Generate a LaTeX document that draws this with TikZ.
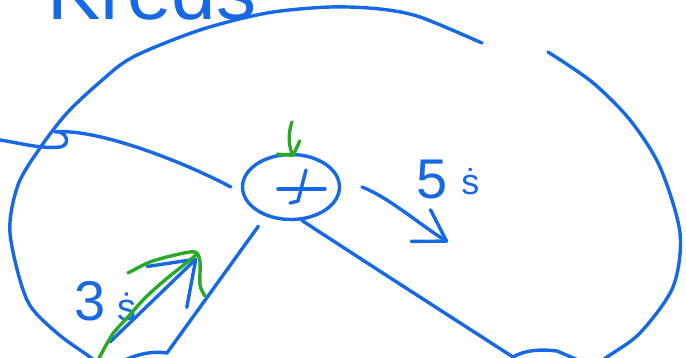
\documentclass[tikz,border=0pt]{standalone}
\usepackage{fontspec}
\setmainfont{Liberation Sans}
\usetikzlibrary{arrows.meta,shapes.geometric}

\definecolor{penblue}{RGB}{22,104,228}
\definecolor{pengreen}{RGB}{40,170,40}

\begin{document}
\begin{tikzpicture}[
    x=1pt, y=-1pt,
    pen/.style={penblue, line width=3.4pt, line cap=round, line join=round},
    marker/.style={pengreen, line width=3.4pt, line cap=round, line join=round},
    hand/.style 2 args={-{Straight Barb[round,length=#1,width=#2]}},
    junction/.style={ellipse, draw=penblue, line width=3.4pt,
                     minimum width=97pt, minimum height=65pt, inner sep=0pt},
    scrawl/.style={text=penblue, inner sep=0pt, anchor=base west}
  ]
  \useasboundingbox (0,0) rectangle (686,357);

  \node[scrawl, font=\fontsize{80}{80}\selectfont] (title) at (47,19) {Kreds};

  % the summing junction
  \node[junction] (sum) at (291,187) {};
  \draw[pen] (278,189) -- (325,189);
  \draw[pen] (306,170) -- (298,201) -- (290,203);

  \coordinate (inL) at (0,140);
  \coordinate (botL) at (167,353);
  \coordinate (botR) at (513,357);
  \coordinate (a5s) at (362,187);
  \coordinate (a5e) at (448,242);
  \coordinate (a3s) at (110,342);
  \coordinate (a3e) at (197,258);
  \coordinate (gs) at (292,122);

  % outer ring, open at the top right
  \draw[pen] plot[smooth] coordinates {(100,366) (90,357) (57,333) (27,300)
      (10,233) (18,185) (40,148) (67,113) (100,82) (133,57) (200,30) (267,13)
      (330,7) (380,9) (420,17) (482,43)};
  \draw[pen] plot[smooth] coordinates {(548,52) (592,82) (630,120) (660,167)
      (680,233) (673,287) (640,333) (607,357) (595,366)};

  % wires into and out of the junction
  \draw[pen] (inL) .. controls (20,143) and (40,149) .. (60,147)
      .. controls (72,145) and (66,130) .. (55,132)
      .. controls (95,128) and (180,160) .. ([xshift=-10pt]sum.west);
  \draw[pen, shorten <=12pt] (sum.-131) -- (botL)
      .. controls (155,351) and (140,353) .. (125,360);
  \draw[pen] (sum.-72) .. controls (350,252) and (440,310) .. (botR)
      .. controls (525,350) and (540,349) .. (557,351) -- (578,360);

  % time arrows
  \draw[pen, hand={30pt}{37pt}] (a5s) .. controls (390,198) and (420,225) .. (a5e);
  \node[scrawl, font=\fontsize{56}{56}\selectfont] (lbl5) at (416,198)
      {5\hspace{14pt}\raisebox{4pt}{\fontsize{36}{36}\selectfont\.{s}}};
  \draw[pen, hand={40pt}{57pt}] (a3s) -- (a3e);
  \node[scrawl, font=\fontsize{56}{56}\selectfont] (lbl3) at (74,320)
      {3\hspace{12pt}{\fontsize{38}{38}\selectfont\.{s}}};

  % green marks
  \draw[marker, hand={9pt}{26pt}] (gs) .. controls (287,135) and (290,150)
      .. ([shift={(3,4)}]sum.north);
  \draw[marker] plot[smooth] coordinates {(97,362) (112,335) (127,318)
      (145,298) (165,280) (190,260) (197,254)};
  \draw[marker] plot[smooth] coordinates {(128,273) (150,262) (175,255)
      (195,252) (200,262) (200,285) (205,296)};
\end{tikzpicture}
\end{document}
